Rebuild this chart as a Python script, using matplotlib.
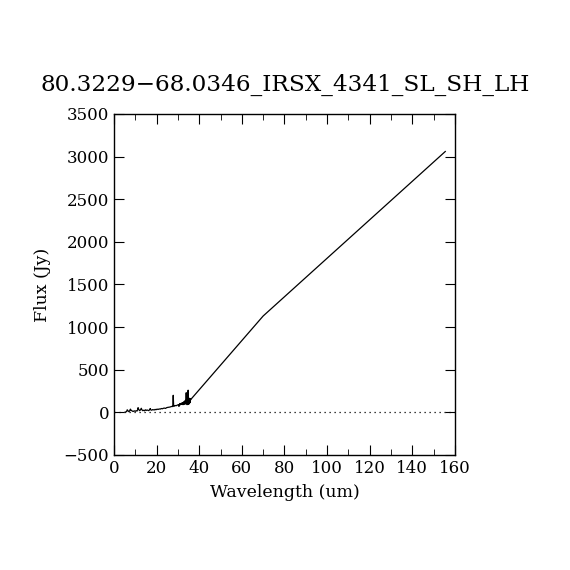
import matplotlib
matplotlib.use("Agg")
import matplotlib.pyplot as plt
from matplotlib.ticker import MultipleLocator

title = "80.3229\u221268.0346_IRSX_4341_SL_SH_LH"

# IRS spectrum (SL, SH, LH)
wave_irs = [5.2, 5.6, 6.0, 6.2, 6.6, 7.0, 7.3, 7.7, 8.0, 8.3, 8.6, 9.0, 9.5, 10.0, 10.4,
            10.8, 11.1, 11.3, 11.6, 12.0, 12.4, 12.8, 13.1, 13.5, 13.9, 14.3, 14.7, 15.1,
            15.5, 15.9, 16.3, 16.7, 17.0, 17.3, 17.7, 18.1, 18.5, 18.9, 19.3, 19.7, 20.2,
            20.7, 21.2, 21.7, 22.2, 22.7, 23.2, 23.7, 24.2, 24.7, 25.2, 25.7, 26.2, 26.7,
            27.2, 27.6, 27.8, 28.0, 28.3, 28.7, 29.2, 29.7, 30.2, 30.5, 30.7, 31.0, 31.2,
            31.5, 31.7, 32.0, 32.2, 32.4, 32.6, 32.8, 33.0, 33.2, 33.3, 33.5, 33.6, 33.8,
            33.9, 34.0, 34.2, 34.3, 34.4, 34.5, 34.6, 34.7, 34.8, 34.9, 35.0, 35.1, 35.2,
            35.3, 35.4, 35.5, 35.6, 35.7, 35.8, 35.9, 36.0]
flux_irs = [2, 5, 12, 30, 18, 8, 15, 38, 25, 20, 15, 10, 18, 12, 20,
            15, 30, 55, 35, 20, 28, 48, 30, 20, 25, 18, 30, 22,
            28, 24, 20, 30, 45, 28, 25, 32, 30, 28, 35, 30, 38,
            34, 40, 38, 45, 42, 48, 50, 46, 55, 58, 60, 62, 66,
            70, 68, 200, 75, 72, 80, 78, 85, 90, 70, 92, 105, 88,
            100, 95, 115, 105, 90, 110, 125, 100, 130, 95, 140, 110, 120,
            230, 105, 135, 90, 145, 110, 100, 150, 260, 95, 120, 160, 110,
            150, 100, 165, 140, 115, 130, 160, 150]

# extrapolated continuum beyond LH
wave_ext = [36.0, 70.0, 155.5]
flux_ext = [150, 1130, 3060]

xlim = (0, 160)
ylim = (-500, 3500)

fig = plt.figure(figsize=(5.7, 5.7), dpi=100)
ax = fig.add_axes([0.2, 0.2018, 0.598, 0.5982])
ax.plot(wave_irs, flux_irs, color="black", lw=0.9)
ax.plot(wave_ext, flux_ext, color="black", lw=0.9)
ax.plot(xlim, [0, 0], color="black", lw=0.9, linestyle=(0, (1, 3)))

ax.set_xlim(*xlim)
ax.set_ylim(*ylim)
ax.xaxis.set_major_locator(MultipleLocator(20))
ax.xaxis.set_minor_locator(MultipleLocator(10))
ax.yaxis.set_major_locator(MultipleLocator(500))
ax.tick_params(which="both", direction="in", top=True, right=True, labelsize=12)
ax.tick_params(which="major", length=7)
ax.tick_params(which="minor", length=4)
for lab in ax.get_xticklabels() + ax.get_yticklabels():
    lab.set_family("DejaVu Serif")
ax.yaxis.set_major_formatter(matplotlib.ticker.FuncFormatter(
    lambda v, p: ("\u2212%d" % -v) if v < 0 else "%d" % v))
ax.set_xlabel("Wavelength (um)", family="DejaVu Serif", fontsize=12.5, labelpad=5)
ax.set_ylabel("Flux (Jy)", family="DejaVu Serif", fontsize=12.5, labelpad=9)
fig.text(0.5, 0.851, title, family="DejaVu Serif", fontsize=16.7, ha="center", va="center")
for s in ax.spines.values():
    s.set_linewidth(1.0)
fig.savefig("out.png", dpi=100)
